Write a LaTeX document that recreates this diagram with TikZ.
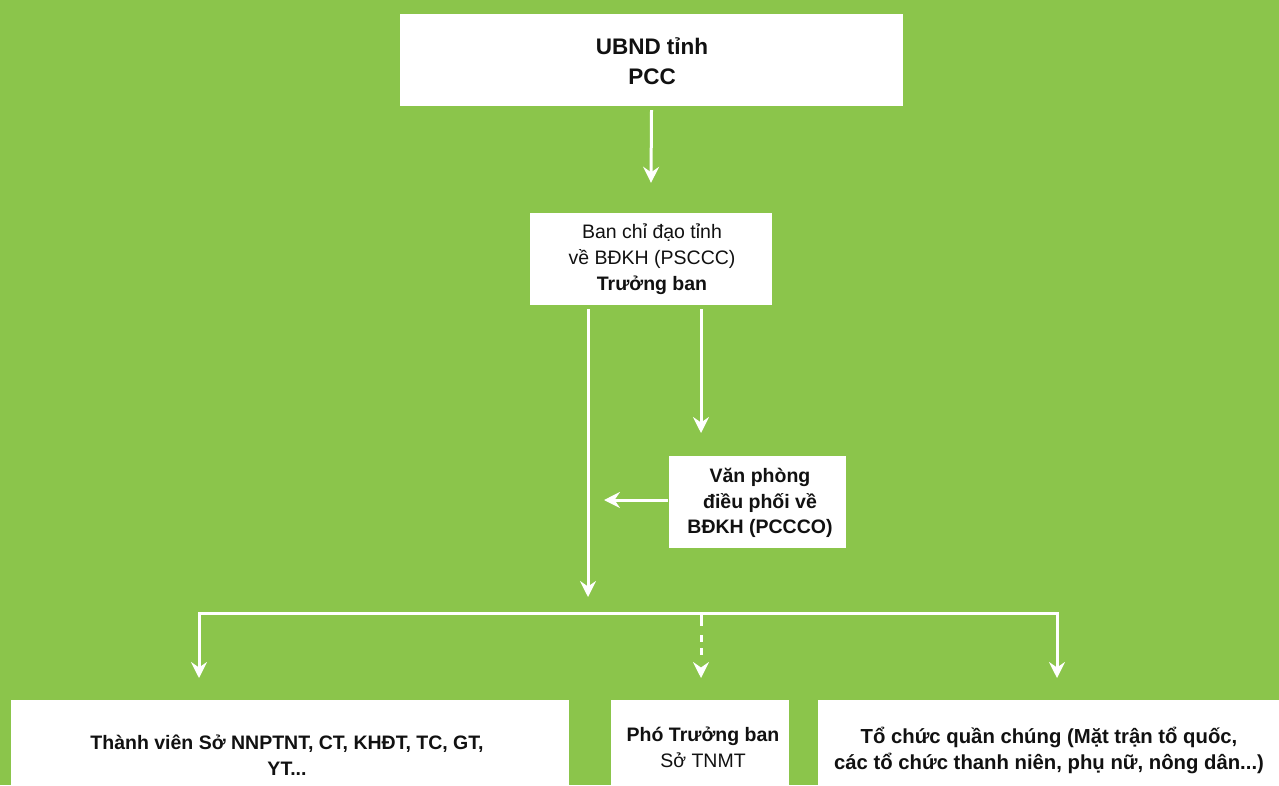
\documentclass[tikz,border=0pt]{standalone}
\usepackage{fontspec}
\setmainfont{Liberation Sans}
\usetikzlibrary{arrows.meta}
\definecolor{leaf}{HTML}{8BC54B}
\definecolor{ink}{HTML}{111111}
\tikzset{
  card/.style={fill=white, draw=none, inner sep=0pt},
  caption/.style={align=center, text=ink, inner sep=0pt},
  big/.style={font=\bfseries\fontsize{22.5}{30}\selectfont},
  body/.style={font=\fontsize{19.5}{26}\selectfont},
  link/.style={draw=white, line width=3pt,
    -{Stealth[length=16pt,width=16pt,inset=5.5pt]}},
}
\begin{document}
\begin{tikzpicture}[x=1pt,y=-1pt]
\fill[leaf] (0,0) rectangle (1279,785);
\useasboundingbox (0,0) rectangle (1279,785);
\clip (0,0) rectangle (1279,785);

% boxes
\node[card, minimum width=503pt, minimum height=92pt] (ubnd) at (651.5,60) {};
\node[caption, big] (ubndtxt) at (652,61) {UBND tỉnh\\PCC};

\node[card, minimum width=242pt, minimum height=92pt] (ban) at (651,259) {};
\node[caption, body] (bantxt) at (652,259) {Ban chỉ đạo tỉnh\\về BĐKH (PSCCC)\\\textbf{Trưởng ban}};

\node[card, minimum width=177pt, minimum height=92pt] (office) at (757.5,502) {};
\node[caption, body, font=\bfseries\fontsize{19.5}{25.5}\selectfont] (officetxt) at (760,503) {Văn phòng\\điều phối về\\BĐKH (PCCCO)};

\node[card, anchor=north west, minimum width=558pt, minimum height=120pt] (members) at (11,700) {};
\node[caption, body, font=\bfseries\fontsize{19.5}{26}\selectfont] (memberstxt) at (287,755) {Thành viên Sở NNPTNT, CT, KHĐT, TC, GT,\\YT...};

\node[card, anchor=north west, minimum width=178pt, minimum height=120pt] (vice) at (611,700) {};
\node[caption, body] (vicetxt) at (703,747) {\textbf{Phó Trưởng ban}\\Sở TNMT};

\node[card, anchor=north west, minimum width=480pt, minimum height=120pt] (mass) at (818,700) {};
\node[caption, body, font=\bfseries\fontsize{20.3}{26}\selectfont] (masstxt) at (1049,750) {Tổ chức quần chúng (Mặt trận tổ quốc,\\các tổ chức thanh niên, phụ nữ, nông dân...)};

% free ends of the connectors
\coordinate (drop) at (588,597);
\coordinate (officeIn) at (701,433);
\coordinate (officeOut) at (604,500);
\coordinate (bus) at (588,613);
\coordinate (busV) at (701,613);
\coordinate (membersIn) at (199,678);
\coordinate (viceIn) at (701,678);
\coordinate (massIn) at (1057,678);

% connectors
\draw[link] ([yshift=-4pt]ubnd.south) -- ([yshift=30pt]ban.north);
\draw[link] ([xshift=-63pt,yshift=-4pt]ban.south) -- (drop);
\draw[link] ([xshift=50pt,yshift=-4pt]ban.south) -- (officeIn);
\draw[link] ([xshift=-1pt,yshift=2pt]office.west) -- (officeOut);
\draw[link] (bus) -| (membersIn);
\draw[link] (bus) -| (massIn);
\draw[link, dash pattern=on 13pt off 9pt on 7pt off 6pt on 7pt off 20pt] (busV) -- (viceIn);
\end{tikzpicture}
\end{document}
